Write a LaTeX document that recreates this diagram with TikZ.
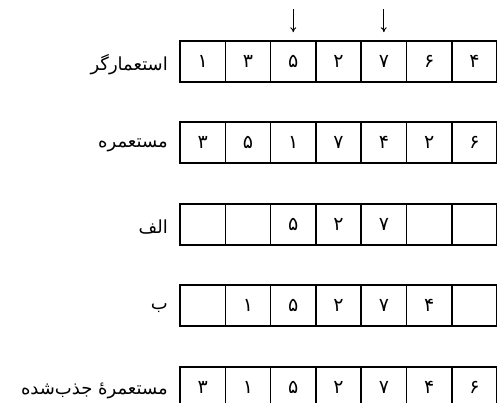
\documentclass[tikz,border=0pt]{standalone}
\usepackage{fontspec}
\usepackage{tikz}
\usetikzlibrary{arrows.meta,positioning}
\TeXXeTstate=1
\newfontfamily\farsi[Script=Arabic]{DejaVu Sans}

\begin{document}
\begin{tikzpicture}[x=1pt,y=-1pt,>={To[length=5pt,width=6pt]},
  cell/.style={draw,line width=1.5pt,minimum width=45.3pt,minimum height=41pt,
    inner sep=0pt,font=\farsi\fontsize{19}{19}\selectfont},
  rowlabel/.style={anchor=east,inner sep=0pt,font=\farsi\fontsize{18}{18}\selectfont}]
  \useasboundingbox (0,0) rectangle (497,403);
  % rows of seven cells
  \foreach \r/\y/\lab/\vals in {
      1/61.5/{استعمارگر}/{۱,۳,۵,۲,۷,۶,۴},
      2/142.5/{مستعمره}/{۳,۵,۱,۷,۴,۲,۶},
      3/224.5/{الف}/{{},{},۵,۲,۷,{},{}},
      4/305.5/{ب}/{{},۱,۵,۲,۷,۴,{}},
      5/387.5/{مستعمرهٔ جذب‌شده}/{۳,۱,۵,۲,۷,۴,۶}}{
    \foreach \v [count=\c] in \vals
      \node[cell] (r\r c\c) at ({180+45.3*(\c-0.5)},\y) {\v};
    \node[rowlabel] (lab\r) at (168,\y+3) {\beginR\lab\endR};
  }
  % chosen positions
  \foreach \c in {3,5}{
    \coordinate[above=31pt of r1c\c.north] (mark\c);
    \draw[->,line width=0.9pt,shorten >=8pt] (mark\c) -- (r1c\c.north);
  }
\end{tikzpicture}
\end{document}
